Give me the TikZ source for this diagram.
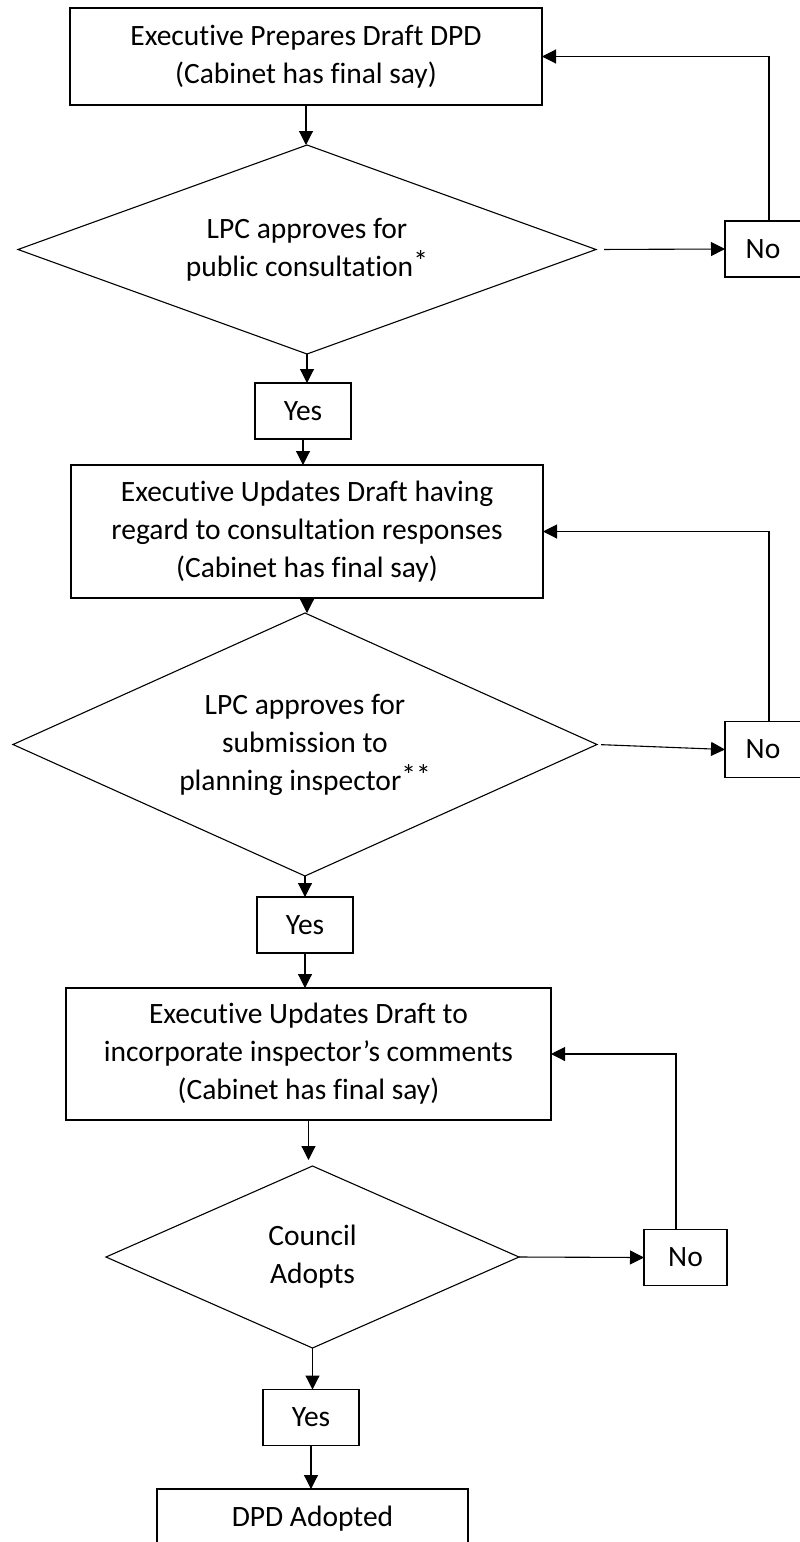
\documentclass[tikz,border=0pt]{standalone}
\usepackage{fontspec}
\setmainfont{Carlito}[Ligatures=NoCommon]
\usepackage{tikz}
\usetikzlibrary{positioning}
\usetikzlibrary{arrows.meta}
\usetikzlibrary{shapes,calc}
\tikzset{step node/.style={rectangle,draw,align=center,inner sep=0pt,outer sep=0pt},
  choice node/.style={diamond,draw,align=center,inner sep=0pt,outer sep=0pt},
  answer node/.style={rectangle,draw,align=center,inner sep=0pt,outer sep=0pt,minimum width=96pt,minimum height=56pt},}
\newcommand{\upstar}{\raisebox{0.35ex}{*}}

\begin{document}
\begin{tikzpicture}[->, >={Triangle[length=14pt,width=14pt]}, x=1pt, y=-1pt, line width=1.1pt, font=\fontsize{29.5}{38}\selectfont]
	\useasboundingbox (0,0) rectangle (800,1542);
	\clip (0,0) rectangle (800,1542);

	\node[step node, minimum width=472pt, minimum height=97pt] (prep) at (306,56.5) {Executive Prepares Draft DPD\\(Cabinet has final say)};
	\node[choice node, aspect=2.77, minimum width=578pt, minimum height=209pt] (lpc1) at (307,249.5) {LPC approves for\\public consultation\upstar};
	\node[answer node, minimum width=76pt] (no1) at (763,249) {No};
	\node[answer node] (yes1) at (303,411) {Yes};
	\node[step node, minimum width=472pt, minimum height=133pt] (upd1) at (307,531.5) {Executive Updates Draft having\\regard to consultation responses\\(Cabinet has final say)};
	\node[choice node, aspect=2.22, minimum width=584pt, minimum height=263pt] (lpc2) at (305,744.5) {LPC approves for\\submission to\\planning inspector\upstar\upstar};
	\node[answer node, minimum width=76pt] (no2) at (763,749.5) {No};
	\node[answer node] (yes2) at (305,925) {Yes};
	\node[step node, minimum width=485pt, minimum height=132pt] (upd2) at (308.5,1054) {Executive Updates Draft to\\incorporate inspector’s comments\\(Cabinet has final say)};
	\node[choice node, aspect=2.27, minimum width=413pt, minimum height=182pt] (council) at (312.5,1257) {Council\\Adopts};
	\node[answer node, minimum width=83pt] (no3) at (685.5,1257.5) {No};
	\node[answer node] (yes3) at (311,1417.5) {Yes};
	\node[step node, minimum width=311pt, minimum height=60pt] (adopted) at (312.5,1519) {DPD Adopted};

	\path
	(prep.south) edge (prep.south |- lpc1.north)
	(lpc1.east) edge[shorten <=8pt] (no1.west)
	(lpc1.south) edge (lpc1.south |- yes1.north)
	(yes1.south) edge (yes1.south |- upd1.north)
	(upd1.south) edge (upd1.south |- lpc2.north)
	(lpc2.east) edge[shorten <=4pt] (no2.west)
	(lpc2.south) edge (lpc2.south |- yes2.north)
	(yes2.south) edge (yes2.south |- upd2.north)
	(upd2.south) edge[shorten >=6pt] (upd2.south |- council.north)
	(council.east) edge (no3.west)
	(council.south) edge (council.south |- yes3.north)
	(yes3.south) edge (yes3.south |- adopted.north);

	\draw ($(no1.north)+(6,0)$) |- (prep.east);
	\draw ($(no2.north)+(6,0)$) |- (upd1.east);
	\draw ($(no3.north)+(-9.5,0)$) |- (upd2.east);
\end{tikzpicture}
\end{document}
